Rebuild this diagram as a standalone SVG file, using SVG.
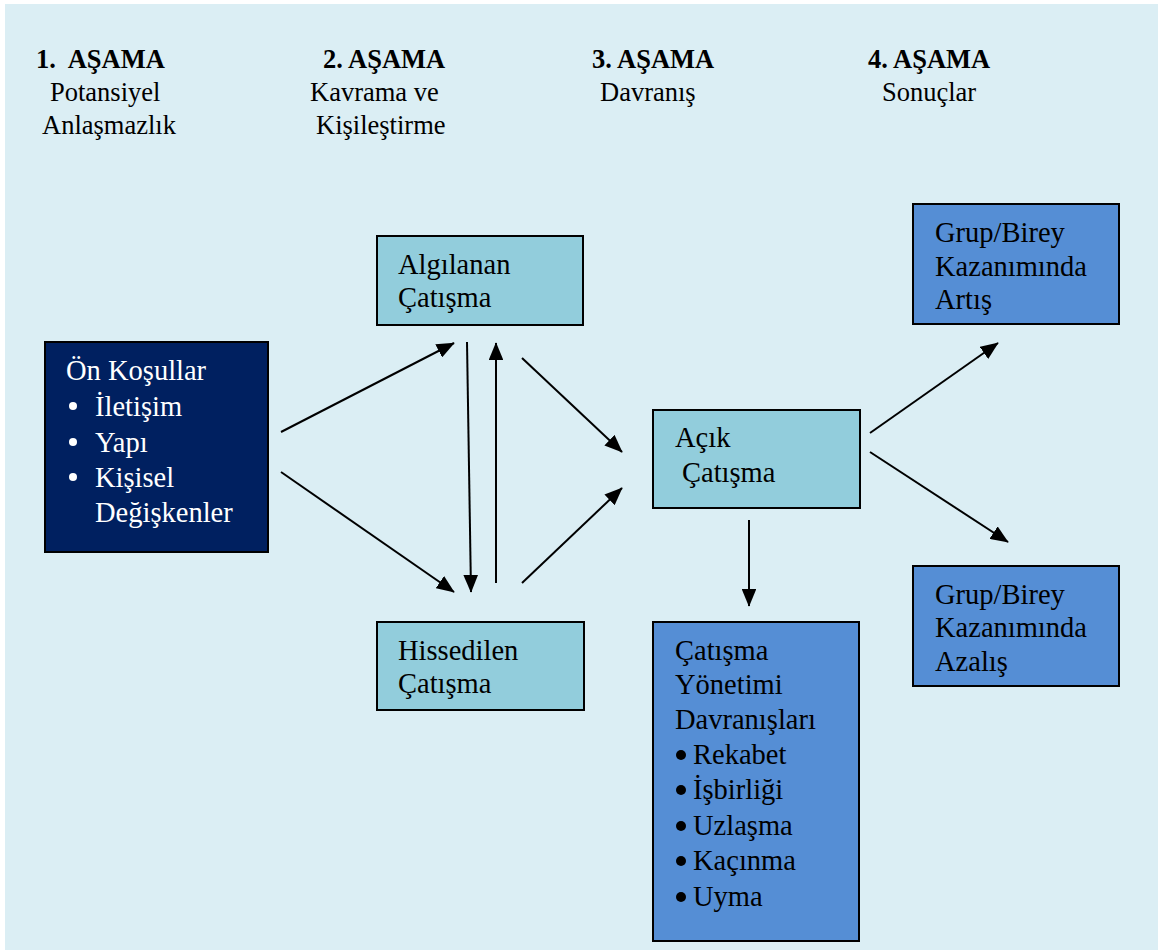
<svg xmlns="http://www.w3.org/2000/svg" width="1158" height="950" viewBox="0 0 1158 950">
<defs>
<marker id="ah" markerWidth="9" markerHeight="7.4" refX="8.6" refY="3.7" orient="auto" markerUnits="strokeWidth">
<path d="M0,0 L9,3.7 L0,7.4 Z" fill="#000"/>
</marker>
<style>
text{font-family:'Liberation Serif','Times New Roman',Tinos,'DejaVu Serif',serif;font-size:28.5px;fill:#000}
.h{font-weight:bold;font-size:26.5px}
.s{font-size:26.5px}
.w{fill:#fff}
.lb{fill:#92CDDC;stroke:#000;stroke-width:2}
.bl{fill:#558ED5;stroke:#000;stroke-width:2}
.nv{fill:#002060;stroke:#000;stroke-width:2}
.c line{stroke:#000;stroke-width:2;marker-end:url(#ah)}
</style>
</defs>
<rect x="0" y="0" width="1158" height="950" fill="#fff"/>
<rect x="5" y="4" width="1153" height="946" fill="#DBEEF4"/>
<g font-family="Liberation Serif, serif">
<g id="headers">
<text class="h" x="36" y="68" xml:space="preserve">1.  AŞAMA</text>
<text class="s" x="50" y="101">Potansiyel</text>
<text class="s" x="42" y="134">Anlaşmazlık</text>
<text class="h" x="323" y="68">2. AŞAMA</text>
<text class="s" x="310" y="101">Kavrama ve</text>
<text class="s" x="316" y="134">Kişileştirme</text>
<text class="h" x="592" y="68">3. AŞAMA</text>
<text class="s" x="600" y="101">Davranış</text>
<text class="h" x="868" y="68">4. AŞAMA</text>
<text class="s" x="882" y="101">Sonuçlar</text>
</g>
<g id="on-kosullar">
<rect class="nv" x="45" y="342" width="223" height="210"/>
<text class="w" x="66" y="380">Ön Koşullar</text>
<circle cx="73" cy="406" r="4" fill="#fff"/>
<text class="w" x="95" y="416">İletişim</text>
<circle cx="73" cy="442" r="4" fill="#fff"/>
<text class="w" x="95" y="452">Yapı</text>
<circle cx="73" cy="477" r="4" fill="#fff"/>
<text class="w" x="95" y="487">Kişisel</text>
<text class="w" x="95" y="522">Değişkenler</text>
</g>
<g id="algilanan">
<rect class="lb" x="377" y="236" width="206" height="89"/>
<text x="398" y="274">Algılanan</text>
<text x="398" y="307">Çatışma</text>
</g>
<g id="hissedilen">
<rect class="lb" x="377" y="622" width="207" height="88"/>
<text x="398" y="660">Hissedilen</text>
<text x="398" y="693">Çatışma</text>
</g>
<g id="acik">
<rect class="lb" x="653" y="410" width="207" height="98"/>
<text x="675" y="447">Açık</text>
<text x="682" y="482">Çatışma</text>
</g>
<g id="yonetim">
<rect class="bl" x="653" y="622" width="206" height="319"/>
<text x="675" y="660">Çatışma</text>
<text x="675" y="694">Yönetimi</text>
<text x="675" y="729">Davranışları</text>
<circle cx="681" cy="755" r="5" fill="#000"/>
<text x="693" y="764">Rekabet</text>
<circle cx="681" cy="790" r="5" fill="#000"/>
<text x="693" y="799">İşbirliği</text>
<circle cx="681" cy="826" r="5" fill="#000"/>
<text x="693" y="835">Uzlaşma</text>
<circle cx="681" cy="861" r="5" fill="#000"/>
<text x="693" y="870">Kaçınma</text>
<circle cx="681" cy="897" r="5" fill="#000"/>
<text x="693" y="906">Uyma</text>
</g>
<g id="artis">
<rect class="bl" x="913" y="204" width="206" height="120"/>
<text x="935" y="242">Grup/Birey</text>
<text x="935" y="276">Kazanımında</text>
<text x="935" y="309">Artış</text>
</g>
<g id="azalis">
<rect class="bl" x="913" y="566" width="206" height="120"/>
<text x="935" y="604">Grup/Birey</text>
<text x="935" y="637">Kazanımında</text>
<text x="935" y="671">Azalış</text>
</g>
</g>
<g id="connectors" class="c">
<line x1="281" y1="432" x2="454" y2="343"/>
<line x1="281" y1="472" x2="454" y2="592"/>
<line x1="467" y1="342" x2="471" y2="592"/>
<line x1="496" y1="583" x2="496" y2="343"/>
<line x1="522" y1="358" x2="622" y2="452"/>
<line x1="522" y1="583" x2="622" y2="488"/>
<line x1="749" y1="520" x2="749" y2="606"/>
<line x1="870" y1="433" x2="998" y2="343"/>
<line x1="870" y1="452" x2="1008" y2="542"/>
</g>
</svg>
